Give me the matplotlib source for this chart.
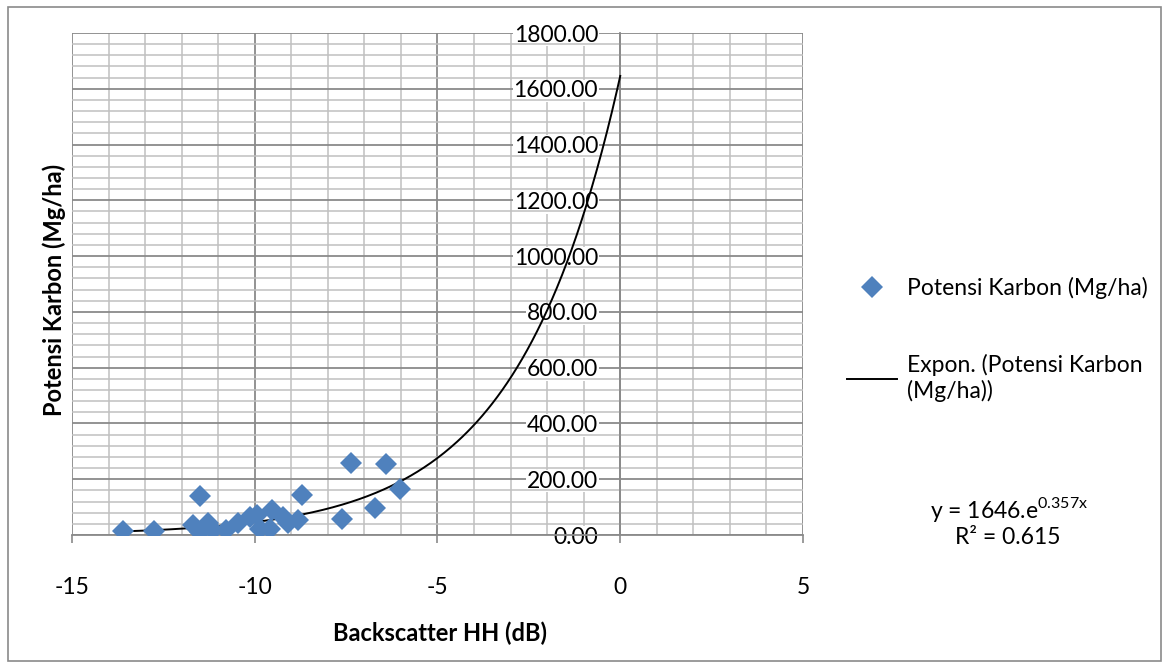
import matplotlib
matplotlib.use("Agg")
import matplotlib.pyplot as plt
import numpy as np
from matplotlib.patches import Rectangle
from matplotlib.ticker import MultipleLocator, FormatStrFormatter

plt.rcParams["font.family"] = ["Lato", "DejaVu Sans"]
plt.rcParams["axes.unicode_minus"] = False
plt.rcParams["mathtext.fontset"] = "custom"
plt.rcParams["mathtext.rm"] = "Lato"

# Backscatter HH (dB) vs Potensi Karbon (Mg/ha)
backscatter = [-13.6, -12.75, -11.7, -11.5, -11.5, -11.27, -11.13, -10.8, -10.45,
               -10.13, -9.95, -9.86, -9.58, -9.54, -9.24, -9.08, -8.82, -8.7,
               -7.62, -7.36, -6.71, -6.41, -6.02]
karbon = [14, 14, 36, 140, 12, 42, 18, 18, 42,
          66, 72, 22, 22, 88, 66, 42, 52, 143,
          56, 257, 98, 255, 166]

# exponential trendline coefficients shown on the chart
fit_a = 1646
fit_b = 0.357
fit_r2 = 0.615

BLUE = "#4f81bd"
MAJOR = "#8a8a8a"
MINOR = "#c0c0c0"
TEXT = "#000000"
FS = 16.5

fig = plt.figure(figsize=(11.69, 6.68), dpi=100)
fig.patches.append(Rectangle((7.5 / 1169, 1 - 661 / 668), 1153 / 1169, 654 / 668,
                             transform=fig.transFigure, fill=False,
                             edgecolor="#8a8a8a", linewidth=1.2))

ax = fig.add_axes([72 / 1169, 1 - 535 / 668, 731 / 1169, 502 / 668])
ax.set_xlim(-15, 5)
ax.set_ylim(0, 1800)
ax.set_axisbelow(True)

ax.xaxis.set_major_locator(MultipleLocator(5))
ax.xaxis.set_minor_locator(MultipleLocator(1))
ax.yaxis.set_major_locator(MultipleLocator(200))
ax.yaxis.set_minor_locator(MultipleLocator(40))
ax.yaxis.set_major_formatter(FormatStrFormatter("%.2f"))

ax.grid(which="major", color=MAJOR, linewidth=1.3)
ax.grid(which="minor", color=MINOR, linewidth=1.1)

for side in ("top", "right"):
    ax.spines[side].set_visible(False)
ax.spines["left"].set_position(("data", 0))
ax.spines["left"].set_color(MAJOR)
ax.spines["left"].set_linewidth(1.3)
ax.spines["bottom"].set_color(MAJOR)
ax.spines["bottom"].set_linewidth(1.3)

ax.tick_params(axis="x", which="major", direction="out", length=6, width=1.2,
               color=MAJOR, labelsize=FS, pad=24, labelcolor=TEXT)
ax.tick_params(axis="y", which="major", length=0, labelsize=FS, pad=16,
               labelcolor=TEXT)
ax.tick_params(which="minor", length=0)
for lbl in ax.get_yticklabels():
    lbl.set_bbox(dict(facecolor="white", edgecolor="none", pad=0.5))

# trendline over the data range up to 0 dB
xs = np.linspace(min(backscatter), 0, 300)
ax.plot(xs, fit_a * np.exp(fit_b * xs), color="black", linewidth=1.4, zorder=3,
        label="Expon. (Potensi Karbon\n(Mg/ha))")
ax.plot(backscatter, karbon, linestyle="none", marker="D", markersize=11,
        color=BLUE, markeredgewidth=0, zorder=4, label="Potensi Karbon (Mg/ha)")

ax.set_xlabel("Backscatter HH (dB)", fontsize=17, fontweight="bold")
ax.xaxis.set_label_coords(0.503, -0.173)
ax.set_ylabel("Potensi Karbon (Mg/ha)", fontsize=17, fontweight="bold")
ax.yaxis.set_label_coords(-0.0082, 0.488)

handles, labels = ax.get_legend_handles_labels()
leg = fig.legend(handles[::-1], labels[::-1], loc="upper left",
                 bbox_to_anchor=(847 / 1169, 1 - 276.5 / 668), frameon=False,
                 fontsize=FS, handlelength=2.18, handletextpad=0.44,
                 labelspacing=2.43, borderpad=0, borderaxespad=0)

fig.text(1009 / 1169, 1 - 510 / 668,
         "y = %d.e$^{\\mathregular{%.3fx}}$" % (fit_a, fit_b),
         ha="center", va="center", fontsize=FS)
fig.text(1008 / 1169, 1 - 537 / 668, "R² = %.3f" % fit_r2,
         ha="center", va="center", fontsize=FS)

fig.savefig("out.png", dpi=100, facecolor="white")
